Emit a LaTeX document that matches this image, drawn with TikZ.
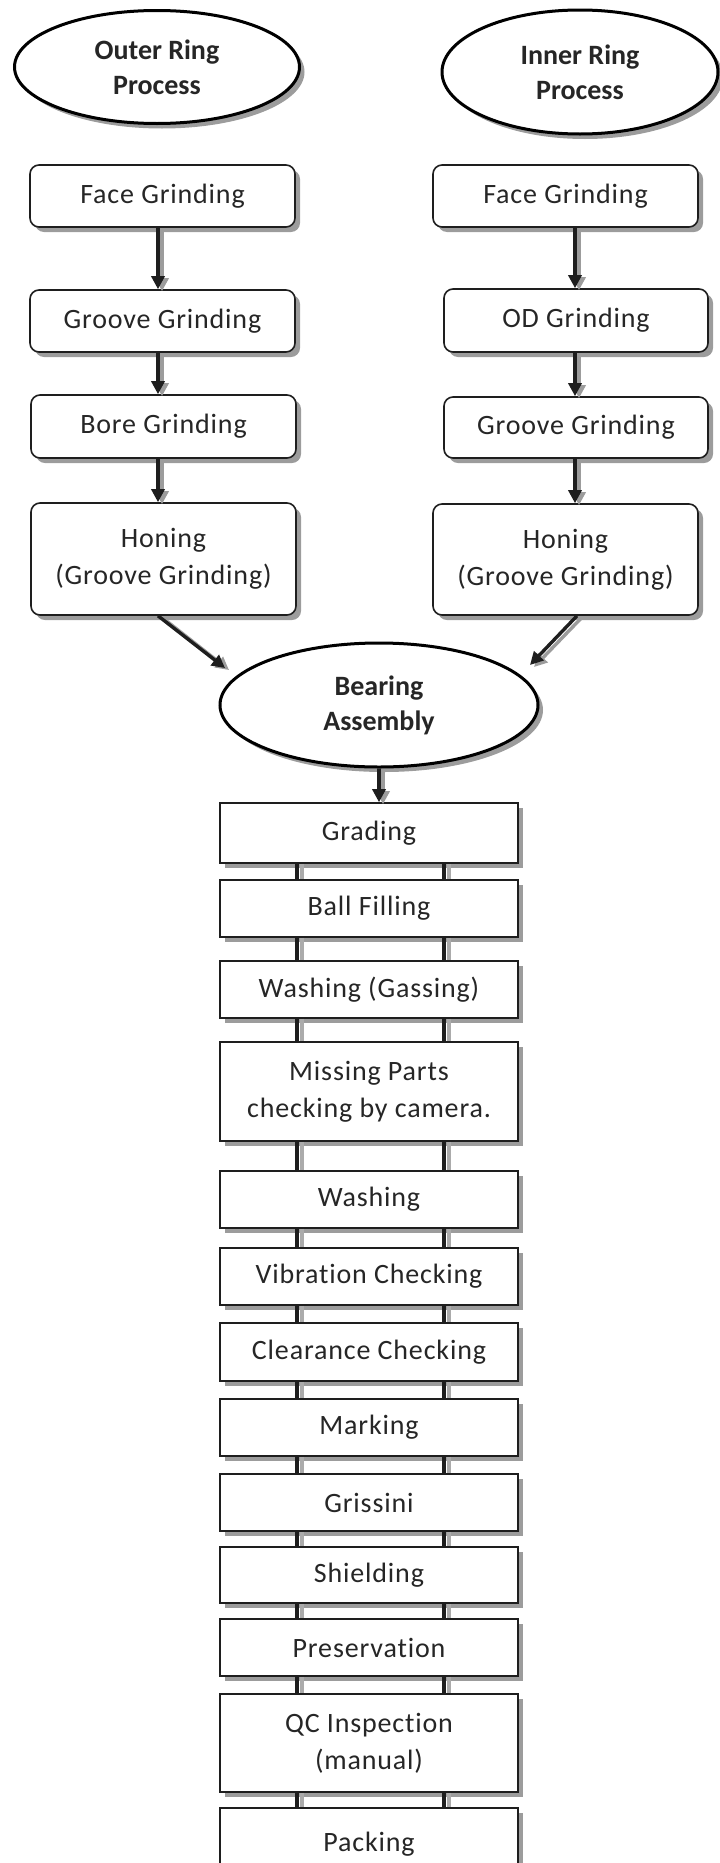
\documentclass[tikz,border=0pt]{standalone}
\usepackage{fontspec}
\setmainfont{Carlito}[Ligatures=NoCommon]
\newfontfamily\stepfont{Carlito}[Ligatures=NoCommon, LetterSpace=3]
\usetikzlibrary{shapes.geometric,shadows,arrows.meta}
\definecolor{ink}{HTML}{1E1E1E}
\definecolor{txt}{HTML}{262626}
\definecolor{shade}{HTML}{9C9C9C}
\begin{document}
\begin{tikzpicture}[x=1pt,y=-1pt,
  every node/.style={font=\stepfont\fontsize{28}{37}\selectfont, text=txt, align=center, inner sep=0pt},
  boxshadow/.style={drop shadow={shadow xshift=5pt,shadow yshift=-5pt,fill=shade,opacity=1}},
  roundbox/.style={draw=ink, line width=1.6pt, rounded corners=9pt, fill=white, boxshadow, minimum width=265pt},
  flatbox/.style={draw=ink, line width=1.6pt, fill=white, boxshadow, minimum width=298pt},
  oval/.style={ellipse, draw=black, line width=3pt, fill=white, boxshadow,
               font=\rmfamily\bfseries\fontsize{28}{35}\selectfont},
  arr/.style={line width=3.4pt, draw=ink, -{Triangle[length=13pt,width=13pt]}},
  arrshade/.style={line width=3.4pt, draw=shade, -{Triangle[length=13pt,width=13pt]}},
  link/.style={line width=4pt, draw=ink},
  linkshade/.style={line width=4pt, draw=shade!85}
]
\useasboundingbox (0,0) rectangle (720,1863);
\clip (0,0) rectangle (720,1863);

% column guides for the connectors
\coordinate (colL) at (158,0);
\coordinate (colR) at (575,0);
\coordinate (lnA) at (297,0);
\coordinate (lnB) at (443.5,0);
\coordinate (tipL) at (225,668);
\coordinate (tipR) at (530,665);

% start ovals
\node[oval, minimum width=285pt, minimum height=113pt] (outer) at (157,67) {Outer Ring\\Process};
\node[oval, minimum width=276pt, minimum height=124pt] (inner) at (580,72) {Inner Ring\\Process};

% outer ring steps
\node[roundbox, minimum height=62pt] (l1) at (162.5,196) {Face Grinding};
\node[roundbox, minimum height=62pt] (l2) at (162.5,321) {Groove Grinding};
\node[roundbox, minimum height=63pt] (l3) at (163.5,426.5) {Bore Grinding};
\node[roundbox, minimum height=112pt] (l4) at (163.5,559) {Honing\\(Groove Grinding)};

% inner ring steps
\node[roundbox, minimum height=62pt] (r1) at (565.5,196) {Face Grinding};
\node[roundbox, minimum width=264pt, minimum height=63pt] (r2) at (576,320.5) {OD Grinding};
\node[roundbox, minimum width=264pt, minimum height=61pt] (r3) at (576,427.5) {Groove Grinding};
\node[roundbox, minimum height=111pt] (r4) at (565.5,559.5) {Honing\\(Groove Grinding)};

% assembly
\node[oval, minimum width=318pt, minimum height=124pt] (bear) at (379,705) {Bearing\\Assembly};

% assembly line steps
\node[flatbox, minimum height=60pt] (s1) at (369,833) {Grading};
\node[flatbox, minimum height=57pt] (s2) at (369,908.5) {Ball Filling};
\node[flatbox, minimum height=57pt] (s3) at (369,989.5) {Washing (Gassing)};
\node[flatbox, minimum height=99pt] (s4) at (369,1091.5) {Missing Parts\\checking by camera.};
\node[flatbox, minimum height=57pt] (s5) at (369,1199.5) {Washing};
\node[flatbox, minimum height=57pt] (s6) at (369,1276.5) {Vibration Checking};
\node[flatbox, minimum height=58pt] (s7) at (369,1352) {Clearance Checking};
\node[flatbox, minimum height=57pt] (s8) at (369,1427.5) {Marking};
\node[flatbox, minimum height=57pt] (s9) at (369,1502.5) {Grissini};
\node[flatbox, minimum height=56pt] (s10) at (369,1575) {Shielding};
\node[flatbox, minimum height=57pt] (s11) at (369,1647.5) {Preservation};
\node[flatbox, minimum height=98pt] (s12) at (369,1743) {QC Inspection\\(manual)};
\node[flatbox, minimum height=72pt] (s13) at (369,1844) {Packing};

% arrows down each ring column
\foreach \a/\b in {l1/l2,l2/l3,l3/l4}{
  \draw[arrshade] ([xshift=4pt,yshift=-2pt]\a.south -| colL) -- ([xshift=4pt,yshift=-2pt]\b.north -| colL);
  \draw[arr] (\a.south -| colL) -- (\b.north -| colL);
}
\foreach \a/\b in {r1/r2,r2/r3,r3/r4}{
  \draw[arrshade] ([xshift=4pt,yshift=-2pt]\a.south -| colR) -- ([xshift=4pt,yshift=-2pt]\b.north -| colR);
  \draw[arr] (\a.south -| colR) -- (\b.north -| colR);
}

% both rings into the assembly
\draw[arrshade] ([xshift=-1pt,yshift=-2pt]l4.south) -- ([xshift=4pt,yshift=-2pt]tipL);
\draw[arr] ([xshift=-5.5pt]l4.south) -- (tipL);
\draw[arrshade] ([xshift=16pt,yshift=-2pt]r4.south) -- ([xshift=4pt,yshift=-2pt]tipR);
\draw[arr] ([xshift=11.5pt]r4.south) -- (tipR);

% assembly to grading
\draw[arrshade] ([xshift=4pt,yshift=-2pt]bear.south) -- ([xshift=4pt,yshift=-2pt]bear.south |- s1.north);
\draw[arr] (bear.south) -- (bear.south |- s1.north);

% twin links between assembly line steps
\foreach \a/\b in {s1/s2,s2/s3,s3/s4,s4/s5,s5/s6,s6/s7,s7/s8,s8/s9,s9/s10,s10/s11,s11/s12,s12/s13}{
  \draw[linkshade] ([xshift=5pt]\a.south -| lnA) -- ([xshift=5pt]\b.north -| lnA);
  \draw[linkshade] ([xshift=5pt]\a.south -| lnB) -- ([xshift=5pt]\b.north -| lnB);
  \draw[link] (\a.south -| lnA) -- (\b.north -| lnA);
  \draw[link] (\a.south -| lnB) -- (\b.north -| lnB);
}
\end{tikzpicture}
\end{document}
